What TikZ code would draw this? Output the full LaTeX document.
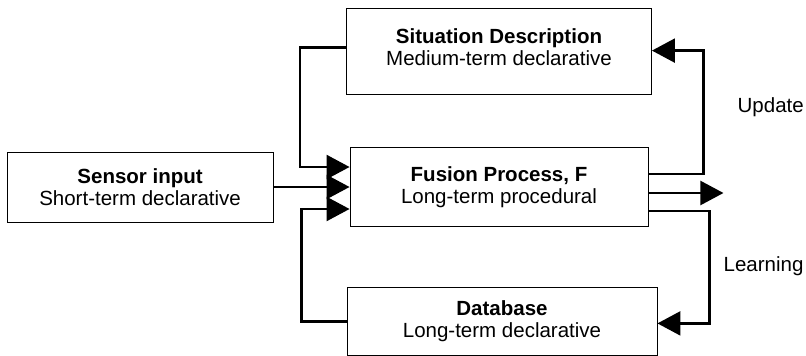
\documentclass[tikz,border=0pt]{standalone}
\usepackage{fontspec}
\setmainfont{Liberation Sans}
\usetikzlibrary{arrows.meta,positioning,calc}

\begin{document}
\begin{tikzpicture}[
x=1pt,y=1pt,
box/.style={draw,line width=0.9pt,align=center,font=\fontsize{20.5}{21.5}\selectfont,inner sep=0pt},
conn/.style={line width=2.3pt},
arr/.style={conn,-{Triangle[length=23pt,width=24pt]}},
lbl/.style={font=\fontsize{20.5}{21.5}\selectfont,inner sep=0pt,anchor=west}
]
\useasboundingbox (0,0) rectangle (806,-356);
\node[box,minimum width=298pt,minimum height=79pt] (fus) at (499,-187) {\textbf{Fusion Process, F}\\Long-term procedural};
\node[box,minimum width=305pt,minimum height=86pt,above=52pt of fus] (sit) {\textbf{Situation Description}\\Medium-term declarative\\[-12pt]};
\node[box,minimum width=266pt,minimum height=70pt,left=76pt of fus] (sen) {\textbf{Sensor input}\\Short-term declarative};
\node[box,minimum width=310pt,minimum height=68pt,below=60pt of fus,xshift=3pt] (db) {\textbf{Database}\\Long-term declarative};
% inputs of F
\draw[arr] ([yshift=4pt]sit.west) -- ++(-46,0) |- ([yshift=20pt]fus.west);
\draw[arr] (sen.east) -- (fus.west |- sen.east);
\draw[arr] (db.west) -- ++(-45,0) |- ([yshift=-22pt]fus.west);
% outputs of F
\draw[arr] ([yshift=13pt]fus.east) -- ++(55,0) coordinate (upc) |- ([yshift=1pt]sit.east);
\coordinate (out) at ([xshift=75pt,yshift=-6pt]fus.east);
\draw[arr] ([yshift=-6pt]fus.east) -- (out);
\draw[arr] ([yshift=-24pt]fus.east) -- ++(61,0) coordinate (lrc) |- ([yshift=-2pt]db.east);
\node[lbl] (upd) at ([shift={(34,67)}]upc) {Update};
\node[lbl] (lrn) at ([shift={(14,-55)}]lrc) {Learning};
\end{tikzpicture}
\end{document}
